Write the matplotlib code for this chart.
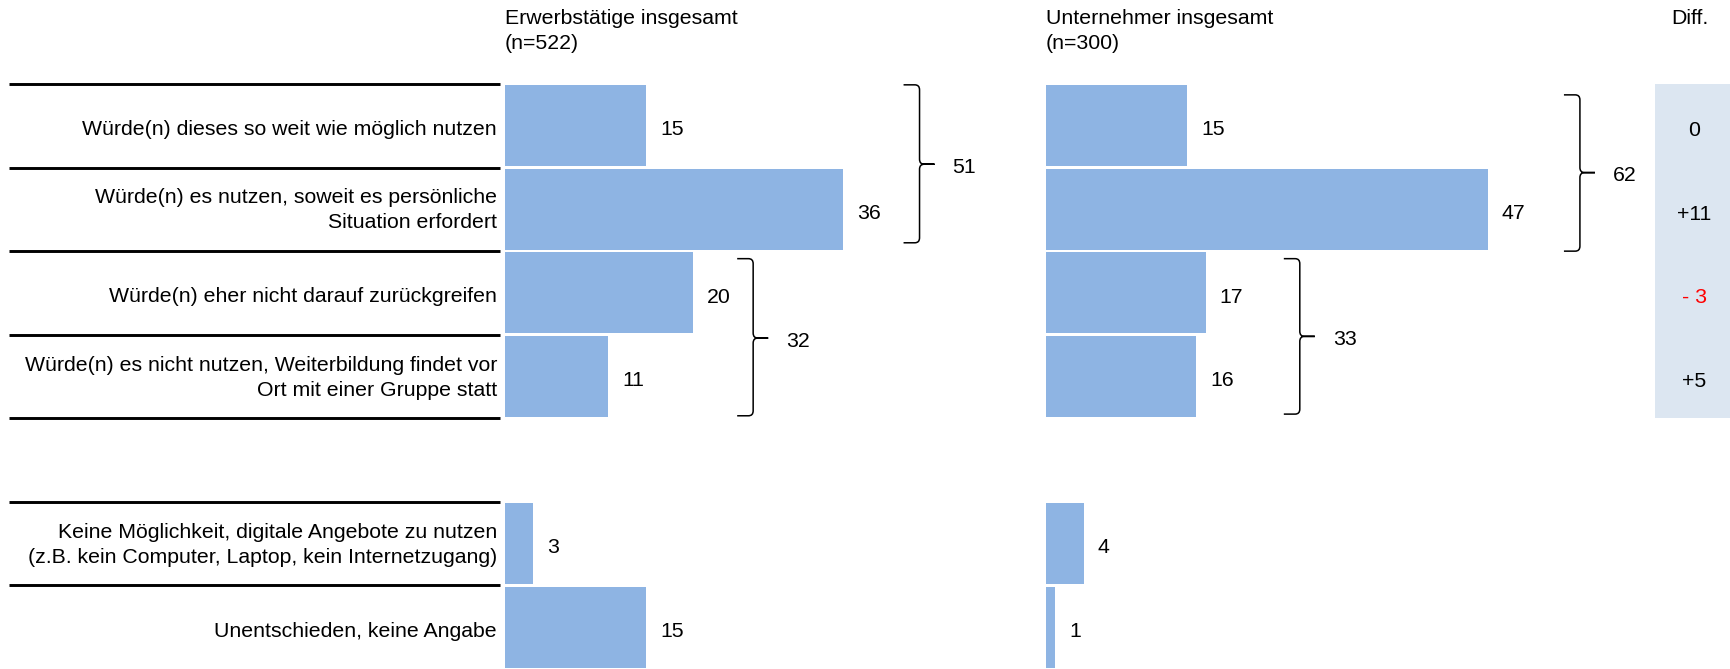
import matplotlib
matplotlib.use("Agg")
import matplotlib.pyplot as plt
from matplotlib.path import Path
from matplotlib.patches import PathPatch
from matplotlib import transforms

plt.rcParams['font.family'] = ['Liberation Sans', 'DejaVu Sans']
plt.rcParams['font.size'] = 15.3

# Daten
kategorien = [
    "Würde(n) dieses so weit wie möglich nutzen",
    "Würde(n) es nutzen, soweit es persönliche\nSituation erfordert",
    "Würde(n) eher nicht darauf zurückgreifen",
    "Würde(n) es nicht nutzen, Weiterbildung findet vor\nOrt mit einer Gruppe statt",
    "Keine Möglichkeit, digitale Angebote zu nutzen\n(z.B. kein Computer, Laptop, kein Internetzugang)",
    "Unentschieden, keine Angabe",
]
erwerbstaetige = [15, 36, 20, 11, 3, 15]
unternehmer = [15, 47, 17, 16, 4, 1]
summen_erwerb = [51, 32]
summen_untern = [62, 33]
titel_erwerb = "Erwerbstätige insgesamt\n(n=522)"
titel_untern = "Unternehmer insgesamt\n(n=300)"

BLAU = '#8EB4E3'
GRAU = '#DCE6F1'
LS = 1.4

pos = [0, 1, 2, 3, 5, 6]

fig = plt.figure(figsize=(17.30, 6.69), dpi=100)
W, H = 1730.0, 669.0
oben = 1 - 84 / H
ax1 = fig.add_axes([505 / W, 0, 470 / W, oben])
ax2 = fig.add_axes([1046 / W, 0, 470 / W, oben])
ax3 = fig.add_axes([1655 / W, 0, 75 / W, oben])

for ax in (ax1, ax2, ax3):
    ax.set_ylim(6.5, -0.5)
    for s in ax.spines.values():
        s.set_visible(False)
    ax.set_xticks([])
    ax.set_yticks([])
ax1.set_xlim(0, 50)
ax2.set_xlim(0, 50)
ax3.set_xlim(0, 1)

ax1.barh(pos, erwerbstaetige, height=0.97, color=BLAU)
ax2.barh(pos, unternehmer, height=0.97, color=BLAU)

for ax, werte in ((ax1, erwerbstaetige), (ax2, unternehmer)):
    for p, v in zip(pos, werte):
        ax.annotate(str(v), (v, p), xytext=(10, -1.5), textcoords='offset points',
                    va='center_baseline', ha='left')

# Kategorien links
tr_lab = transforms.blended_transform_factory(ax1.transAxes, ax1.transData)
for p, k in zip(pos, kategorien):
    if "\n" in k:
        tr = transforms.offset_copy(tr_lab, fig=fig, x=-8, y=-1, units='dots')
        ax1.text(0, p, k, transform=tr, ha='right', va='center', linespacing=LS)
    else:
        tr = transforms.offset_copy(tr_lab, fig=fig, x=-8, y=-2, units='dots')
        ax1.text(0, p, k, transform=tr, ha='right', va='center_baseline')

# Trennlinien
trans = transforms.blended_transform_factory(fig.transFigure, ax1.transData)
for y in [-0.5, 0.5, 1.5, 2.5, 3.5, 4.5, 5.5]:
    ax1.plot([9 / W, 500 / W], [y, y], color='black', lw=2.1, transform=trans,
             clip_on=False, solid_capstyle='butt')


def klammer(ax, x, y0, ytip, y1, summe):
    w, t, rw, r = 1.7, 1.6, 0.5, 0.06
    verts = [(x - w, y0), (x - rw, y0), (x, y0), (x, y0 + r),
             (x, ytip - r), (x, ytip), (x + rw, ytip), (x + t, ytip),
             (x + t, ytip), (x + rw, ytip), (x, ytip), (x, ytip + r),
             (x, y1 - r), (x, y1), (x - rw, y1), (x - w, y1)]
    codes = [Path.MOVETO, Path.LINETO, Path.CURVE3, Path.CURVE3,
             Path.LINETO, Path.CURVE3, Path.CURVE3, Path.LINETO,
             Path.MOVETO, Path.LINETO, Path.CURVE3, Path.CURVE3,
             Path.LINETO, Path.CURVE3, Path.CURVE3, Path.LINETO]
    ax.add_patch(PathPatch(Path(verts, codes), fill=False, lw=1.1,
                           edgecolor='black', clip_on=False))
    ax.annotate(str(summe), (x + t, ytip), xytext=(13, -1),
                textcoords='offset points', va='center_baseline', ha='left',
                annotation_clip=False)


klammer(ax1, 44.1, -0.49, 0.46, 1.40, summen_erwerb[0])
klammer(ax1, 26.4, 1.59, 2.54, 3.47, summen_erwerb[1])
klammer(ax2, 56.8, -0.37, 0.56, 1.50, summen_untern[0])
klammer(ax2, 27.0, 1.59, 2.52, 3.45, summen_untern[1])

# Differenzspalte
ax3.axhspan(-0.5, 3.5, color=GRAU, lw=0)
for i in range(4):
    d = unternehmer[i] - erwerbstaetige[i]
    if d > 0:
        txt, farbe = "+%d" % d, 'black'
    elif d < 0:
        txt, farbe = "- %d" % abs(d), 'red'
    else:
        txt, farbe = "0", 'black'
    ax3.annotate(txt, (0.52, pos[i]), xytext=(0, -2), textcoords='offset points',
                 color=farbe, ha='center', va='center_baseline')

# Kopfzeilen
ykopf = 1 - 31 / H
fig.text(505 / W, ykopf, titel_erwerb, ha='left', va='center', linespacing=LS)
fig.text(1046 / W, ykopf, titel_untern, ha='left', va='center', linespacing=LS)
fig.text(1690 / W, 1 - 18 / H, "Diff.", ha='center', va='center')

fig.savefig("out.png", dpi=100)
